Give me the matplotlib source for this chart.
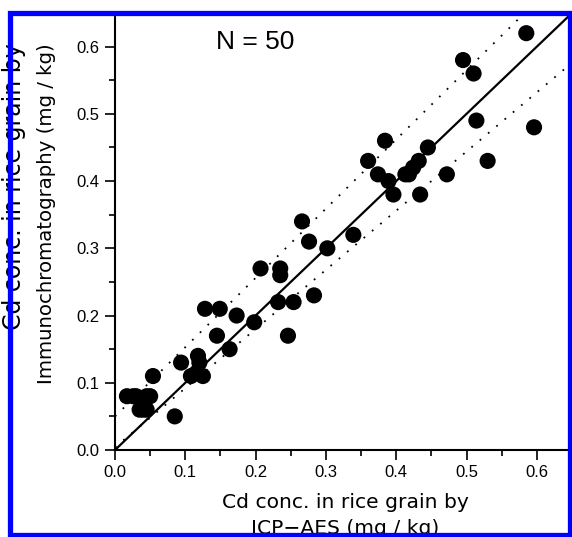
import numpy as np
import matplotlib
matplotlib.use('Agg')
import matplotlib.pyplot as plt
from matplotlib.patches import Rectangle

# ICP-AES (x) vs immunochromatography (y), mg/kg
icp = [0.017, 0.026, 0.030, 0.035, 0.040, 0.045, 0.045, 0.050, 0.054, 0.085,
       0.094, 0.108, 0.116, 0.118, 0.120, 0.125, 0.128, 0.145, 0.149, 0.163,
       0.173, 0.198, 0.207, 0.232, 0.235, 0.235, 0.246, 0.254, 0.266, 0.276,
       0.283, 0.302, 0.339, 0.360, 0.374, 0.384, 0.389, 0.396, 0.413, 0.418,
       0.424, 0.432, 0.434, 0.445, 0.472, 0.495, 0.510, 0.514, 0.530, 0.585,
       0.596]
immuno = [0.080, 0.080, 0.080, 0.060, 0.060, 0.060, 0.080, 0.080, 0.110, 0.050,
          0.130, 0.110, 0.115, 0.140, 0.130, 0.110, 0.210, 0.170, 0.210, 0.150,
          0.200, 0.190, 0.270, 0.220, 0.270, 0.260, 0.170, 0.220, 0.340, 0.310,
          0.230, 0.300, 0.320, 0.430, 0.410, 0.460, 0.400, 0.380, 0.410, 0.410,
          0.420, 0.430, 0.380, 0.450, 0.410, 0.580, 0.560, 0.490, 0.430, 0.620,
          0.480]

# reference lines: 1:1 line and the two dotted bounds (slope, intercept)
fit = (1.0, 0.0)
upper = (1.03, 0.05)
lower = (0.88, 0.004)

W, H = 572, 537
fig = plt.figure(figsize=(W / 100, H / 100), dpi=100)
ax = fig.add_axes([115 / W, (H - 450) / H, (W - 115) / W, (450 - 13) / H])

xs = np.array([0.0, 0.65])
ax.plot(xs, fit[0] * xs + fit[1], color='black', lw=1.6, zorder=2)
for m, b in (upper, lower):
    ax.plot(xs, m * xs + b, color='black', lw=1.3, ls=(0, (1, 5)), zorder=2)

ax.scatter(icp, immuno, s=135, color='black', edgecolors='none', zorder=3)

ax.set_xlim(0, 0.65)
ax.set_ylim(0, 0.65)
ax.set_xticks(np.arange(0, 0.61, 0.1))
ax.set_yticks(np.arange(0, 0.61, 0.1))
ax.set_xticks(np.arange(0.05, 0.65, 0.1), minor=True)
ax.set_yticks(np.arange(0.05, 0.65, 0.1), minor=True)
ax.xaxis.set_major_formatter(plt.FormatStrFormatter('%.1f'))
ax.yaxis.set_major_formatter(plt.FormatStrFormatter('%.1f'))
ax.tick_params(which='major', direction='out', length=7, width=1.2,
               labelsize=12, pad=4)
ax.tick_params(which='minor', direction='out', length=4, width=1.2)
for lab in ax.get_xticklabels() + ax.get_yticklabels():
    lab.set_fontfamily('Liberation Sans')
ax.spines['top'].set_visible(False)
ax.spines['right'].set_visible(False)
ax.spines['left'].set_linewidth(1.5)
ax.spines['bottom'].set_linewidth(1.5)

ax.text(0.199, 0.607, 'N = 50', fontsize=19, family='Liberation Sans',
        ha='center', va='center')

# axis labels (two lines each)
fig.text(345 / W, 1 - 503 / H, 'Cd conc. in rice grain by', fontsize=14.6,
         ha='center', va='center')
fig.text(345 / W, 1 - 528 / H, 'ICP\u2212AES (mg / kg)', fontsize=14.6,
         ha='center', va='center')
fig.text(14 / W, 1 - 43 / H, 'Cd conc. in rice grain by', fontsize=17,
         rotation=90, ha='center', va='top')
fig.text(47 / W, 1 - 43 / H, 'Immunochromatography (mg / kg)', fontsize=14.2,
         rotation=90, ha='center', va='top')

# blue frame around the picture
fig.add_artist(Rectangle((10 / W, 2 / H), 559.5 / W, (H - 12.5 - 2) / H,
                         transform=fig.transFigure, fill=False,
                         edgecolor='#0000ff', lw=3.8, zorder=10))

fig.savefig('out.png', dpi=100)
